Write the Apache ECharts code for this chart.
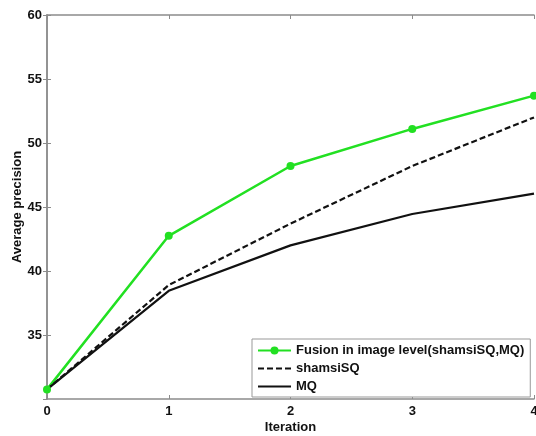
<!DOCTYPE html>
<html>
<head>
<meta charset="utf-8">
<script src="https://cdn.jsdelivr.net/npm/echarts@6/dist/echarts.min.js"></script>
<style>html,body{margin:0;padding:0;background:#fff}#c{width:536px;height:436px}</style>
</head>
<body>
<div id="c"></div>
<script>
var iterations = [0, 1, 2, 3, 4];
var fusion = [30.75, 42.75, 48.2, 51.1, 53.7];
var shamsiSQ = [30.75, 38.9, 43.7, 48.2, 52.0];
var mq = [30.75, 38.45, 42.0, 44.45, 46.05];
var seriesNames = ['Fusion in image level(shamsiSQ,MQ)', 'shamsiSQ', 'MQ'];

function pairs(vals) { return iterations.map(function (x, i) { return [x, vals[i]]; }); }

var font = 'Liberation Sans, Arial, Helvetica, sans-serif';
var axisColor = '#8c8c8c';
var chart = echarts.init(document.getElementById('c'));
chart.setOption({
  animation: false,
  grid: { left: 47, right: 2, top: 15, bottom: 37, containLabel: false, outerBoundsMode: 'none' },
  xAxis: [{
    type: 'value', min: 0, max: 4, interval: 1,
    name: 'Iteration', nameLocation: 'middle', nameGap: 22, nameMoveOverlap: false,
    nameTextStyle: { fontFamily: font, fontWeight: 'bold', fontSize: 13, color: '#111' },
    axisLine: { lineStyle: { color: axisColor, width: 1.5 } },
    axisTick: { inside: true, length: 4, lineStyle: { color: axisColor } },
    axisLabel: { fontFamily: font, fontWeight: 'bold', fontSize: 13, color: '#111', margin: 6 },
    splitLine: { show: false }
  }, {
    type: 'value', min: 0, max: 4, interval: 1, position: 'top',
    axisLine: { lineStyle: { color: axisColor, width: 1.5 } },
    axisTick: { inside: true, length: 4, lineStyle: { color: axisColor } },
    axisLabel: { show: false }, splitLine: { show: false }
  }],
  yAxis: [{
    type: 'value', min: 30, max: 60, interval: 5,
    name: 'Average precision', nameLocation: 'middle', nameGap: 23, nameMoveOverlap: false,
    nameTextStyle: { fontFamily: font, fontWeight: 'bold', fontSize: 13, color: '#111' },
    axisLine: { show: true, lineStyle: { color: axisColor, width: 1.5 } },
    axisTick: { show: true, inside: true, length: 4, lineStyle: { color: axisColor } },
    axisLabel: { fontFamily: font, fontWeight: 'bold', fontSize: 13, color: '#111', margin: 5, showMinLabel: false },
    splitLine: { show: false }
  }, {
    type: 'value', min: 30, max: 60, interval: 5, position: 'right',
    axisLine: { show: true, lineStyle: { color: axisColor, width: 1.5 } },
    axisTick: { show: true, inside: true, length: 4, lineStyle: { color: axisColor } },
    axisLabel: { show: false }, splitLine: { show: false }
  }],
  legend: {
    left: 252, top: 339, width: 281, height: 57,
    orient: 'vertical', itemWidth: 33, itemHeight: 10, itemGap: 5,
    padding: [5, 6, 4, 5],
    backgroundColor: '#fff', borderColor: '#999', borderWidth: 1, borderRadius: 0,
    textStyle: { fontFamily: font, fontWeight: 'bold', fontSize: 13, color: '#111' },
    data: [
      { name: seriesNames[0] },
      { name: seriesNames[1], itemStyle: { opacity: 0 } },
      { name: seriesNames[2], itemStyle: { opacity: 0 } }
    ]
  },
  series: [{
    name: seriesNames[0], type: 'line', data: pairs(fusion),
    symbol: 'circle', symbolSize: 8, showSymbol: true,
    lineStyle: { color: '#22e022', width: 2.5 }, itemStyle: { color: '#22e022' }, z: 3
  }, {
    name: seriesNames[1], type: 'line', data: pairs(shamsiSQ),
    symbol: 'none',
    lineStyle: { color: '#111', width: 2.2, type: [6, 3] }, itemStyle: { color: '#111' }
  }, {
    name: seriesNames[2], type: 'line', data: pairs(mq),
    symbol: 'none',
    lineStyle: { color: '#111', width: 2.2 }, itemStyle: { color: '#111' }
  }]
});
</script>
</body>
</html>
